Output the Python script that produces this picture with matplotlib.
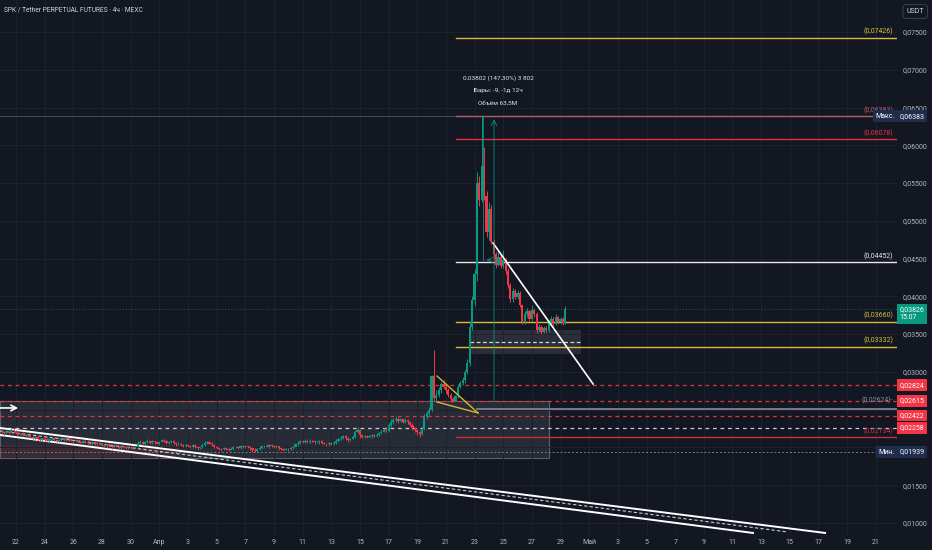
import numpy as np
import matplotlib.pyplot as plt
from matplotlib.transforms import blended_transform_factory

plt.rcParams['font.family'] = ['Roboto', 'DejaVu Sans']

# 4h candles from Mar 21 00:00, prices in 1e-5 USDT
first_open = 2210
close = [
    2200, 2185, 2210, 2195, 2230, 2215,  # Mar 21
    2190, 2170, 2180, 2160, 2150, 2165,
    2140, 2120, 2135, 2110, 2100, 2120,
    2105, 2090, 2110, 2125, 2100, 2085,
    2095, 2110, 2100, 2120, 2105, 2090,
    2080, 2095, 2070, 2060, 2085, 2075,
    2060, 2045, 2070, 2055, 2040, 2050,
    2030, 2015, 2040, 2020, 2000, 2025,
    2010, 1995, 2020, 2005, 1990, 2010,
    2000, 1990, 2010, 2060, 2075, 2050,
    2070, 2090, 2060, 2080, 2065, 2050,  # Mar 31
    2075, 2095, 2080, 2060, 2070, 2085,  # Apr 1
    2060, 2040, 2050, 2030, 2020, 2035,
    2020, 2005, 2030, 2010, 1995, 2000,
    2030, 2060, 2075, 2050, 2035, 2010,
    1995, 1980, 1975, 1990, 1985, 1970,
    1985, 2000, 2010, 1995, 2015, 2005,
    2020, 2000, 1990, 1970, 1955, 1975,
    1995, 2015, 2025, 2010, 2030, 2020,
    2005, 2015, 1990, 1985, 1970, 1980,
    1975, 1990, 2010, 2040, 2060, 2080,  # Apr 10
    2070, 2085, 2075, 2090, 2080, 2065,
    2070, 2085, 2060, 2050, 2040, 2055,
    2045, 2060, 2090, 2110, 2130, 2145,
    2120, 2100, 2115, 2140, 2200, 2230,
    2160, 2140, 2150, 2135, 2145, 2160,
    2150, 2170, 2190, 2210, 2230, 2220,
    2290, 2340, 2360, 2380, 2350, 2370,
    2340, 2360, 2330, 2300, 2260, 2230,
    2200, 2180, 2250, 2400, 2450, 2500,  # Apr 19
    2950, 2650, 2700, 2760, 2840, 2800,
    2760, 2700, 2640, 2620, 2680, 2800,
    2850, 2890, 3000, 3120, 3600, 3950,
    4300, 5500, 5280, 5720, 5330, 4850,  # Apr 23
    5150, 4720, 4560, 4420, 4520, 4400,
    4480, 4330, 4150, 3960, 4070, 3990,
    4040, 3880, 3660, 3760, 3800, 3700,
    3820, 3760, 3560, 3600, 3530, 3580,
    3550, 3650, 3700, 3640, 3720, 3660,
    3700, 3650, 3826,  # Apr 29
]
wick_up = [
    15, 10, 20, 10, 25, 10,
    10, 15, 10, 20, 10, 15,
    20, 10, 15, 10, 20, 10,
    10, 20, 15, 10, 15, 10,
    15, 10, 20, 15, 10, 20,
    10, 15, 10, 20, 15, 10,
    20, 10, 15, 10, 10, 15,
    10, 20, 10, 15, 10, 20,
    15, 10, 20, 10, 15, 10,
    10, 15, 10, 30, 20, 10,
    20, 15, 10, 15, 10, 20,
    15, 20, 10, 15, 10, 15,
    10, 15, 20, 10, 15, 10,
    15, 10, 20, 10, 15, 10,
    25, 20, 15, 10, 15, 10,
    10, 15, 10, 20, 10, 15,
    15, 20, 10, 15, 20, 10,
    15, 10, 15, 10, 20, 15,
    20, 15, 10, 15, 20, 10,
    10, 15, 10, 20, 10, 15,
    10, 20, 15, 20, 25, 20,
    15, 20, 10, 15, 10, 15,
    20, 15, 10, 15, 10, 20,
    10, 20, 25, 15, 20, 15,
    20, 15, 10, 25, 30, 40,
    20, 15, 10, 20, 15, 20,
    15, 20, 20, 15, 25, 20,
    30, 40, 25, 30, 20, 25,
    20, 30, 15, 20, 20, 15,
    20, 15, 30, 40, 30, 40,
    10, 340, 60, 40, 30, 50,
    30, 20, 20, 30, 20, 40,
    30, 40, 30, 50, 80, 60,
    60, 150, 100, 663, 260, 70,
    100, 60, 40, 30, 80, 40,
    140, 30, 40, 30, 40, 30,
    40, 30, 20, 40, 40, 20,
    60, 20, 30, 30, 20, 30,
    30, 40, 40, 30, 40, 20,
    30, 20, 40,
]
wick_dn = [
    10, 20, 10, 15, 10, 20,
    15, 10, 20, 10, 15, 10,
    10, 15, 10, 20, 15, 10,
    15, 10, 20, 10, 15, 20,
    10, 20, 10, 15, 20, 10,
    20, 10, 15, 10, 20, 15,
    10, 15, 10, 20, 15, 10,
    15, 10, 20, 10, 20, 10,
    10, 20, 10, 15, 10, 15,
    20, 10, 15, 10, 15, 20,
    10, 15, 20, 10, 15, 10,
    20, 10, 15, 20, 10, 15,
    15, 20, 10, 15, 10, 20,
    10, 15, 10, 20, 25, 10,
    10, 15, 20, 10, 15, 20,
    20, 10, 25, 10, 15, 20,
    10, 15, 10, 20, 10, 15,
    15, 10, 20, 25, 20, 10,
    10, 15, 20, 10, 15, 20,
    15, 10, 20, 15, 20, 10,
    20, 10, 15, 10, 20, 15,
    15, 10, 20, 15, 10, 20,
    10, 20, 15, 10, 20, 15,
    15, 10, 20, 15, 10, 20,
    20, 25, 15, 10, 20, 15,
    30, 15, 20, 10, 15, 20,
    15, 10, 20, 15, 10, 20,
    20, 15, 25, 20, 30, 15,
    20, 15, 25, 20, 30, 20,
    30, 40, 20, 20, 30, 20,
    20, 30, 40, 30, 40, 30,
    40, 30, 40, 20, 10, 20,
    20, 30, 40, 30, 40, 50,
    80, 100, 80, 30, 50, 60,
    100, 30, 50, 40, 20, 30,
    30, 30, 40, 30, 30, 20,
    30, 20, 30, 20, 30, 30,
    20, 30, 40, 30, 30, 20,
    20, 20, 30, 30, 20, 30,
    20, 30, 10,
]

# x axis: days since Mar 22
tick_days = list(range(0, 61, 2))
tick_labels = ['22', '24', '26', '28', '30', 'Апр', '3', '5', '7', '9', '11', '13', '15',
               '17', '19', '21', '23', '25', '27', '29', 'Май', '3', '5', '7', '9', '11',
               '13', '15', '17', '19', '21']
price_ticks = [0.010, 0.015, 0.020, 0.025, 0.030, 0.035, 0.040, 0.045, 0.050, 0.055,
               0.060, 0.065, 0.070, 0.075]
hidden_ticks = [0.020, 0.025]  # covered by tags in the reference

# drawn levels (right side, from Apr 20)
lvl_price = [0.07426, 0.06383, 0.06078, 0.04452, 0.03660, 0.03332, 0.02134]
lvl_text = ['(0,07426)', '(0,06383)', '(0,06078)', '(0,04452)', '(0,03660)', '(0,03332)', '(0,02134)']
lvl_color = ['#d6bd3a', '#b0606a', '#e3303f', '#e8e8e8', '#d6bd3a', '#d6bd3a', '#c9303c']
# full width dashed levels
dash_price = [0.02824, 0.02615, 0.02422, 0.02258]
dash_color = ['#e5323f', '#e5323f', '#e5323f', '#c8cad0']
last_price = 0.03826
max_price, min_price = 0.06383, 0.01939

BG = '#131722'
UP, DN = '#089981', '#f23645'

c = np.array(close) / 1e5
o = np.r_[first_open, close[:-1]] / 1e5
hi = np.maximum(o, c) + np.array(wick_up) / 1e5
lo = np.minimum(o, c) - np.array(wick_dn) / 1e5
t = -1 + np.arange(len(c)) / 6
col = np.where(c >= o, UP, DN)

fig = plt.figure(figsize=(9.32, 5.5), dpi=100, facecolor=BG)
ax = fig.add_axes([0, 15 / 550, 897 / 932, 535 / 550], facecolor=BG)
ax.set_xlim(-1.117, 61.48)
ax.set_ylim(0.0084, 0.07924)
for s in ax.spines.values():
    s.set_visible(False)

ax.set_xticks(tick_days)
ax.set_xticklabels(tick_labels)
ax.set_yticks(price_ticks)
ax.set_yticklabels(['' if p in hidden_ticks else f'{p:.5f}'.replace('.', ',') for p in price_ticks])
ax.yaxis.tick_right()
ax.tick_params(axis='both', length=0, labelsize=5, colors='#b2b5be')
ax.tick_params(axis='y', pad=4)
ax.tick_params(axis='x', pad=3)
ax.grid(color='#1e222d', lw=0.7, zorder=0)

# zones
ax.add_patch(plt.Rectangle((-1.117, 0.0186), 38.3, 0.02615 - 0.0186, fc='#b2b5be', alpha=0.13,
                           ec='none', zorder=1))
ax.add_patch(plt.Rectangle((-1.117, 0.0186), 38.3, 0.02615 - 0.0186, fc='none', ec='#5d606b',
                           lw=0.8, zorder=1))
ax.add_patch(plt.Rectangle((-1.117, 0.01873), 12.55, 0.02032 - 0.01873, fc='#a0303c', alpha=0.18,
                           ec='none', zorder=1))
ax.add_patch(plt.Rectangle((31.68, 0.0325), 7.68, 0.03555 - 0.0325, fc='#b2b5be', alpha=0.15,
                           ec='#6a6d78', lw=0.8, zorder=1))
ax.plot([31.68, 39.36], [0.03396, 0.03396], color='#d1d4dc', lw=0.9, ls=(0, (3, 2)), zorder=2)

# horizontal lines
for p, cl in zip(dash_price, dash_color):
    ax.axhline(p, color=cl, lw=0.9, ls=(0, (3, 3)), zorder=2)
ax.axhline(min_price, color='#787b86', lw=0.7, ls=(0, (2, 2)), zorder=2)
ax.axhline(max_price, color='#4a4e5a', lw=0.7, zorder=2)
ax.axhline(last_price, color=UP, lw=0.7, ls=(0, (1, 2)), alpha=0.6, zorder=2)
ax.plot([32.17, 61.48], [0.0251, 0.0251], color='#787b86', lw=1.4, zorder=2)
ax.text(61.2, 0.02615, '(0,02624)-', color='#8a8d96', fontsize=5, ha='right', va='center', zorder=4)

for p, txt, cl in zip(lvl_price, lvl_text, lvl_color):
    ax.plot([30.7, 61.48], [p, p], color=cl, lw=1.0, zorder=2)
    ax.text(61.2, p + 0.0003, txt, color=cl, fontsize=5, ha='right', va='bottom', zorder=4)

# channel lines
ax.plot([-1.117, 56.46], [0.02257, 0.00867], color='white', lw=1.4, zorder=3)
ax.plot([-1.117, 51.43], [0.02164, 0.00867], color='white', lw=1.4, zorder=3)
ax.plot([-1.117, 53.87], [0.02217, 0.0088], color='#c8cad0', lw=0.8, ls=(0, (3, 2)), zorder=3)

# candles
ax.vlines(t, lo, hi, colors=col, lw=0.7, zorder=4)
ax.bar(t, np.maximum(np.abs(c - o), 0.00006), bottom=np.minimum(o, c), width=0.15, color=col,
       lw=0, zorder=5)

# drawings
ax.plot([29.38, 32.24], [0.02945, 0.02456], color='#d6b636', lw=1.0, zorder=6)
ax.plot([29.38, 32.24], [0.02601, 0.02456], color='#d6b636', lw=1.0, zorder=6)
ax.plot([33.29, 40.27], [0.04706, 0.0284], color='white', lw=1.2, zorder=6)
ax.annotate('', xy=(0.35, 0.02522), xytext=(-1.3, 0.02522),
            arrowprops=dict(arrowstyle='->', color='white', lw=1.2), zorder=6)

# measure tool
ax.annotate('', xy=(33.36, max_price), xytext=(33.36, 0.02584),
            arrowprops=dict(arrowstyle='->', color=UP, lw=0.7, alpha=0.8), zorder=6)
ax.plot([32.57, 32.57], [0.04481, max_price], color=UP, lw=0.7, alpha=0.8, zorder=6)
ax.annotate('', xy=(32.62, 0.04481), xytext=(33.36, 0.04481),
            arrowprops=dict(arrowstyle='->', color=UP, lw=0.7, alpha=0.8), zorder=6)
ax.text(33.64, 0.0689, '0,03802 (147,30%) 3 802', color='#e0e3eb', fontsize=4.6, ha='center', va='center')
ax.text(33.64, 0.06725, 'Бары: -9, -1д 12ч', color='#e0e3eb', fontsize=4.6, ha='center', va='center')
ax.text(33.64, 0.0656, 'Объём 63,5M', color='#e0e3eb', fontsize=4.6, ha='center', va='center')

# price scale tags
tr = blended_transform_factory(ax.transAxes, ax.transData)


def tag(price, text, fc, x=1.003, ha='left', tc='white'):
    ax.text(x, price, text, transform=tr, fontsize=5, color=tc, ha=ha, va='center', clip_on=False,
            zorder=10, bbox=dict(boxstyle='square,pad=0.35', fc=fc, ec='none'))


for p in dash_price:
    tag(p, f'{p:.5f}'.replace('.', ','), DN)
tag(max_price, '0,06383', '#1f2e4d')
tag(max_price, 'Макс.', '#1f2e4d', x=0.997, ha='right')
tag(min_price, '0,01939', '#1f2e4d')
tag(min_price, 'Мин.', '#1f2e4d', x=0.997, ha='right')
tag(last_price - 0.00055, '0,03826\n15:07', UP)

fig.text(0.004, 0.982, 'SPK / Tether PERPETUAL FUTURES · 4ч · MEXC', color='#d1d4dc', fontsize=4.8,
         ha='left', va='center')
fig.text(0.982, 0.979, 'USDT', color='#d1d4dc', fontsize=5, ha='center', va='center',
         bbox=dict(boxstyle='round,pad=0.5', fc=BG, ec='#434651', lw=0.6))

fig.savefig('out.png', dpi=100, facecolor=BG)
